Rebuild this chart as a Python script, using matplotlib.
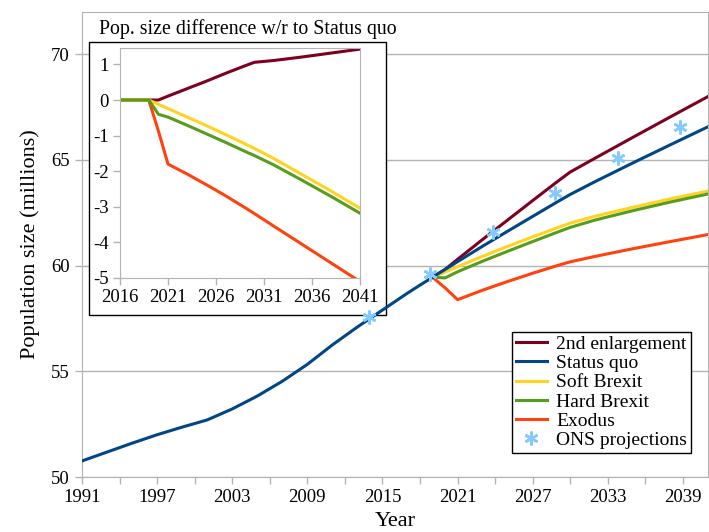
import numpy as np
import matplotlib
matplotlib.use("Agg")
import matplotlib.pyplot as plt
from matplotlib.patches import Rectangle

plt.rcParams["font.family"] = ["Liberation Serif", "DejaVu Serif"]
plt.rcParams["axes.unicode_minus"] = False

# ---- data ----
SQ_YEARS = [1991, 1993, 1995, 1997, 1999, 2001, 2003, 2005, 2007, 2009, 2011, 2013,
            2015, 2016, 2017, 2018, 2019, 2020, 2021, 2023, 2025, 2027, 2029, 2030,
            2032, 2035, 2038, 2041]
STATUS_QUO = [50.76, 51.18, 51.60, 52.00, 52.36, 52.70, 53.22, 53.83, 54.53, 55.33,
              56.25, 57.10, 57.90, 58.30, 58.70, 59.08, 59.45, 59.82, 60.19, 60.92,
              61.63, 62.33, 63.03, 63.37, 63.98, 64.86, 65.72, 66.57]

# difference w.r.t. status quo (millions)
PROJ_YEARS = [2016, 2017, 2018, 2019, 2020, 2021, 2023, 2025, 2027, 2029, 2030, 2032,
              2035, 2038, 2041]
D_ENLARGE = [0, 0, 0, 0, 0.00, 0.11, 0.32, 0.53, 0.75, 0.96, 1.06, 1.11, 1.21, 1.32, 1.43]
D_SOFT = [0, 0, 0, 0, -0.12, -0.24, -0.48, -0.72, -0.97, -1.23, -1.36, -1.64, -2.10,
          -2.56, -3.04]
D_HARD = [0, 0, 0, 0, -0.40, -0.48, -0.71, -0.95, -1.19, -1.44, -1.56, -1.82, -2.26,
          -2.71, -3.18]
D_EXODUS = [0, 0, 0, 0, -0.87, -1.80, -2.08, -2.38, -2.69, -3.02, -3.19, -3.54, -4.06,
            -4.58, -5.10]

ONS_YEARS = [2013.9, 2018.8, 2023.8, 2028.8, 2033.8, 2038.8]
ONS = [57.55, 59.60, 61.60, 63.42, 65.07, 66.54]

COL = {"2nd enlargement": "#7e0021", "Status quo": "#004586", "Soft Brexit": "#ffd320",
       "Hard Brexit": "#579d1c", "Exodus": "#ff420e", "ONS": "#83caff"}
GRAY = "#b3b3b3"

sq_at = dict(zip(SQ_YEARS, STATUS_QUO))
py = np.array(PROJ_YEARS)
base = np.array([sq_at[y] for y in PROJ_YEARS])
scen = {"2nd enlargement": np.array(D_ENLARGE), "Soft Brexit": np.array(D_SOFT),
        "Hard Brexit": np.array(D_HARD), "Exodus": np.array(D_EXODUS)}

fig = plt.figure(figsize=(7.09, 5.32), dpi=100)
ax = fig.add_axes([82/709, 55/532, 626/709, 465/532])

lw = 2.2
m = py >= 2019
handles = {}
for name in ["2nd enlargement", "Soft Brexit", "Hard Brexit", "Exodus"]:
    handles[name], = ax.plot(py[m], base[m] + scen[name][m], color=COL[name], lw=lw,
                             label=name, zorder=3)
handles["Status quo"], = ax.plot(SQ_YEARS, STATUS_QUO, color=COL["Status quo"], lw=lw,
                                 label="Status quo", zorder=3.5)
handles["ONS projections"], = ax.plot(ONS_YEARS, ONS, ls="none", marker=(6, 2, 0),
                                      ms=10, mew=1.8, color=COL["ONS"],
                                      label="ONS projections", zorder=4)

ax.set_xlim(1991, 2041)
ax.set_ylim(50, 72)
ax.set_xticks(range(1991, 2042, 6))
ax.set_xticks(range(1994, 2042, 6), minor=True)
ax.set_yticks([50, 55, 60, 65, 70])
ax.grid(axis="y", color=GRAY, lw=1)
ax.set_axisbelow(True)
for s in ax.spines.values():
    s.set_color(GRAY)
ax.tick_params(which="both", color=GRAY, length=5, width=1, labelsize=13.5, pad=4)
ax.set_xlabel("Year", fontsize=16, labelpad=4)
ax.set_ylabel("Population size (millions)", fontsize=16, labelpad=8)

order = ["2nd enlargement", "Status quo", "Soft Brexit", "Hard Brexit", "Exodus",
         "ONS projections"]
leg = ax.legend([handles[k] for k in order], order, loc="lower right",
                bbox_to_anchor=(0.973, 0.052), fontsize=14, frameon=True,
                fancybox=False, edgecolor="black", framealpha=1, borderpad=0.2,
                labelspacing=0.08, handlelength=1.6, handletextpad=0.5,
                borderaxespad=0)
leg.get_frame().set_linewidth(1.0)

# inset frame (white box with black border)
frame = Rectangle((89/709, (532-315)/532), 297/709, 273/532, transform=fig.transFigure,
                  facecolor="white", edgecolor="black", lw=1.0, zorder=2,
                  clip_on=False)
ax.add_patch(frame)
fig.text(99/709, (532-29)/532, "Pop. size difference w/r to Status quo", fontsize=14.3,
         ha="left", va="center")

ins = fig.add_axes([120/709, (532-278)/532, 240/709, 230.3/532])
for name in ["2nd enlargement", "Exodus", "Soft Brexit", "Hard Brexit"]:
    ins.plot(py, scen[name], color=COL[name], lw=lw)
ins.set_xlim(2016, 2041)
ins.set_ylim(-5, 1.47)
ins.set_xticks(range(2016, 2042, 5))
ins.set_yticks(range(-5, 2))
for s in ins.spines.values():
    s.set_color(GRAY)
ins.tick_params(color=GRAY, length=5, width=1, labelsize=13.5, pad=3)

fig.savefig("out.png", dpi=100)
